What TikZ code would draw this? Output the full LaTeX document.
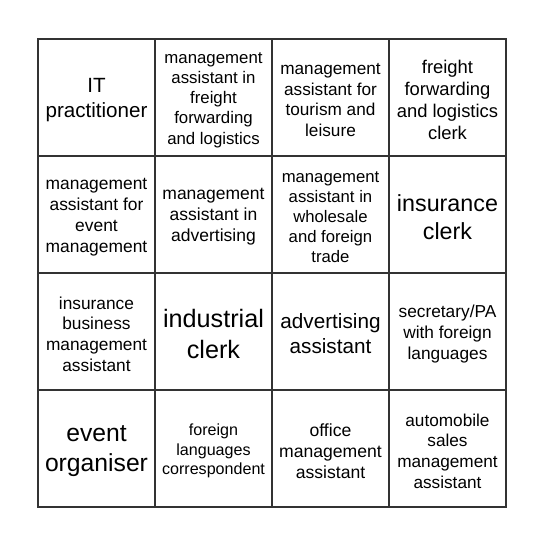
\documentclass[tikz,border=0pt]{standalone}
\usepackage{fontspec}
\setmainfont{Liberation Sans}
\newcommand{\fs}[1]{\fontsize{#1}{\the\dimexpr1.2\dimexpr#1pt\relax\relax}\selectfont}
\begin{document}
\begin{tikzpicture}[x=1pt,y=-1pt,
  gridline/.style={draw=black!80,line width=1.6pt},
  cell/.style={align=center,inner sep=0pt,text=black,yshift=-2.5pt}]
\useasboundingbox (0,0) rectangle (544,544);
\fill[white] (0,0) rectangle (544,544);
% row 1
\node[cell,font=\fs{20.6}] (c11) at (96.5,97.5) {IT\\practitioner};
\node[cell,font=\fs{16.8}] (c12) at (213.5,97.5) {management\\assistant in\\freight\\forwarding\\and logistics};
\node[cell,font=\fs{17.2}] (c13) at (330.5,97.5) {management\\assistant for\\tourism and\\leisure};
\node[cell,font=\fs{18.4}] (c14) at (447.5,97.5) {freight\\forwarding\\and logistics\\clerk};
% row 2
\node[cell,font=\fs{17.4}] (c21) at (96.5,214.5) {management\\assistant for\\event\\management};
\node[cell,font=\fs{17.5}] (c22) at (213.5,214.5) {management\\assistant in\\advertising};
\node[cell,font=\fs{16.7}] (c23) at (330.5,214.5) {management\\assistant in\\wholesale\\and foreign\\trade};
\node[cell,font=\fs{23.3}] (c24) at (447.5,214.5) {insurance\\clerk};
% row 3
\node[cell,font=\fs{17.3}] (c31) at (96.5,331.5) {insurance\\business\\management\\assistant};
\node[cell,font=\fs{25.2}] (c32) at (213.5,331.5) {industrial\\clerk};
\node[cell,font=\fs{20.7}] (c33) at (330.5,331.5) {advertising\\assistant};
\node[cell,font=\fs{17.3}] (c34) at (447.5,331.5) {secretary/PA\\with foreign\\languages};
% row 4
\node[cell,font=\fs{24.7}] (c41) at (96.5,448.5) {event\\organiser};
\node[cell,font=\fs{16.1}] (c42) at (213.5,448.5) {foreign\\languages\\correspondent};
\node[cell,font=\fs{17.6}] (c43) at (330.5,448.5) {office\\management\\assistant};
\node[cell,font=\fs{17.2}] (c44) at (447.5,448.5) {automobile\\sales\\management\\assistant};
% grid
\foreach \v in {155,272,389}{
  \draw[gridline] (\v,39) -- (\v,507);
  \draw[gridline] (38,\v+1) -- (506,\v+1);
}
\draw[gridline] (38,39) rectangle (506,507);
\end{tikzpicture}
\end{document}
